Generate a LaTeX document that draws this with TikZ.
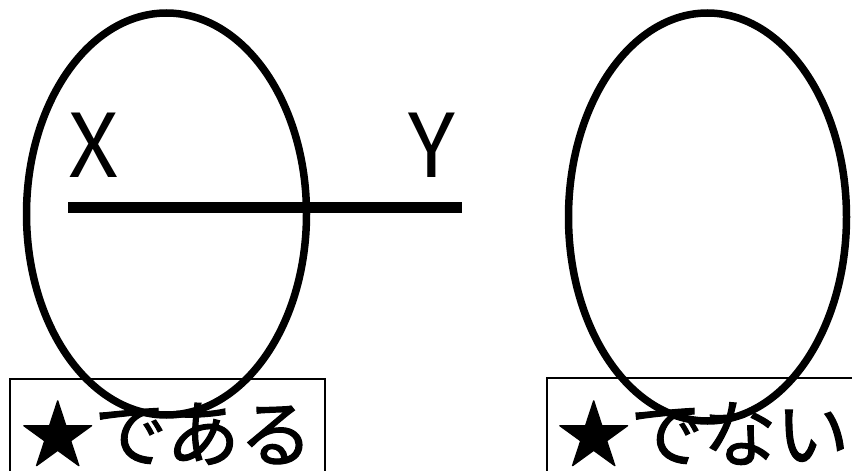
\documentclass[tikz,border=0pt]{standalone}
\usepackage{fontspec}
\setmainfont{Noto Sans CJK JP}
\newfontfamily\jpheavy[FakeBold=1.6]{Noto Sans CJK JP}
\usetikzlibrary{shapes.geometric}
\tikzset{
  oval/.style={draw, ellipse, line width=7.5pt, inner sep=0pt, outer sep=0pt},
  lbl/.style={anchor=base west, inner sep=0pt, font=\fontsize{88}{96}\selectfont},
  boxtxt/.style={anchor=base west, inner sep=0pt, font=\jpheavy\fontsize{73}{82}\selectfont},
  frame/.style={draw, line width=2pt},
}
\begin{document}
\begin{tikzpicture}[x=1pt,y=-1pt]
\useasboundingbox (0,0) rectangle (852,471);
\clip (0,0) rectangle (852,471);
% boxes
\draw[frame] (10,379) rectangle (325,490);
\draw[frame] (547,378) rectangle (870,490);
\node[boxtxt] (t1) at (21,461) {★である};
\node[boxtxt] (t2) at (557,461) {★でない};
% line
\coordinate (a) at (68,207);
\coordinate (b) at (462,207);
\draw[line width=11pt] (a) -- (b);
\node[lbl] (x) at (68,177) {X};
\node[lbl] (y) at (408,177) {Y};
% ellipses
\node[oval, minimum width=280pt, minimum height=402pt] (e1) at (166.5,214) {};
\node[oval, minimum width=278pt, minimum height=408pt] (e2) at (707.5,217) {};
\end{tikzpicture}
\end{document}
